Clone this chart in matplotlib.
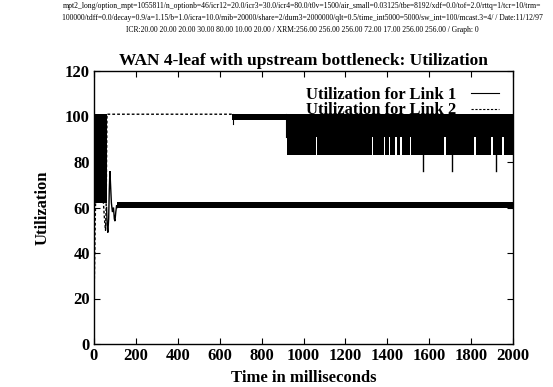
import numpy as np
import matplotlib
matplotlib.use("Agg")
import matplotlib.pyplot as plt

# ---------------- data ----------------
# Link 1 (solid): dense oscillation bands (t_start, t_end, low, high) and sparse trace
link1_bands = [(0, 60, 62, 101), (112, 2000, 59.8, 62.2)]
link1_t = [60, 63, 66, 70, 73, 76, 79, 83, 88, 93, 97, 100, 104, 108, 112]
link1_v = [60, 52, 49, 55, 68, 76, 70, 62, 58, 60, 55, 54, 58, 61, 60]

# Link 2 (dashed): sparse trace, dense bands, gaps and spikes in the last band
link2_t = [0, 3, 6, 9, 12, 15, 20, 25, 30, 35, 40, 45, 50, 55, 58, 62, 660]
link2_v = [20, 35, 55, 70, 82, 90, 85, 80, 88, 75, 70, 62, 55, 50, 60, 101, 101]
link2_bands = [(660, 918, 98.5, 101), (920, 2000, 83, 101)]
link2_blips_t = [665, 918]
link2_blips_v = [96.5, 91]
link2_gaps = [1062, 1329, 1386, 1410, 1443, 1467, 1510, 1676, 1819, 1900, 1952]
link2_gap_floor = 91
link2_spikes = [1571, 1710, 1919]
link2_spike_floor = 76

title = "WAN 4-leaf with upstream bottleneck: Utilization"
xlabel = "Time in milliseconds"
ylabel = "Utilization"
legend_labels = ["Utilization for Link 1", "Utilization for Link 2"]
header = [
    "mpt2_long/option_mpt=1055811/n_optionb=46/icr12=20.0/icr3=30.0/icr4=80.0/t0v=1500/air_small=0.03125/tbe=8192/xdf=0.0/tof=2.0/rttq=1/tcr=10/trm=",
    "100000/tdff=0.0/decay=0.9/a=1.15/b=1.0/icra=10.0/mib=20000/share=2/dum3=2000000/qlt=0.5/time_int5000=5000/sw_int=100/mcast.3=4/ / Date:11/12/97",
    "ICR:20.00 20.00 20.00 30.00 80.00 10.00 20.00 / XRM:256.00 256.00 256.00 72.00 17.00 256.00 256.00 / Graph: 0",
]
xticks = list(range(0, 2001, 200))
yticks = list(range(0, 121, 20))

# ---------------- plot ----------------
plt.rcParams['font.family'] = ['Liberation Serif', 'DejaVu Serif']
fig = plt.figure(figsize=(5.53, 3.87), dpi=100)
ax = fig.add_axes([94/553, 43/387, 419/553, 273/387])

def draw_band(t0, t1, lo, hi, gaps=(), gap_floor=None, notch=4):
    ts = [t0]
    low = [lo]
    for g in gaps:
        ts += [g - notch, g - notch, g + notch, g + notch]
        low += [lo, gap_floor, gap_floor, lo]
    ts.append(t1)
    low.append(lo)
    ax.fill_between(ts, low, [hi] * len(ts), color='black', linewidth=0)

for b in link1_bands:
    draw_band(*b)
ax.plot(link1_t, link1_v, color='black', lw=1.0, solid_joinstyle='miter')

ax.plot(link2_t, link2_v, color='black', lw=1.0, ls=(0, (2, 1.5)))
draw_band(*link2_bands[0])
draw_band(*link2_bands[1], gaps=link2_gaps, gap_floor=link2_gap_floor)
for bt, bv in zip(link2_blips_t, link2_blips_v):
    ax.plot([bt, bt], [bv, 101], color='black', lw=0.8)
for s in link2_spikes:
    ax.plot([s, s], [link2_spike_floor, link2_bands[1][2]], color='black', lw=1.0)

# legend handles
h1, = ax.plot([], [], color='black', lw=0.8)
h2, = ax.plot([], [], color='black', lw=0.8, ls=(0, (2, 1.5)))
leg = ax.legend([h1, h2], legend_labels, loc='upper right',
                bbox_to_anchor=(0.983, 0.965), frameon=False, markerfirst=False,
                prop={'weight': 'bold', 'size': 12}, handlelength=1.7,
                handletextpad=0.85, labelspacing=-0.05, borderaxespad=0.0)

ax.set_xlim(0, 2000)
ax.set_ylim(0, 120)
ax.set_xticks(xticks)
ax.set_yticks(yticks)
ax.tick_params(direction='in', top=True, right=True, length=4, width=0.8,
               labelsize=12, pad=3)
for lab in ax.get_xticklabels() + ax.get_yticklabels():
    lab.set_fontweight('bold')
for sp in ax.spines.values():
    sp.set_linewidth(1.0)

ax.set_title(title, fontsize=12.5, fontweight='bold', pad=4)
ax.set_xlabel(xlabel, fontsize=12, fontweight='bold', labelpad=4)
ax.set_ylabel(ylabel, fontsize=12, fontweight='bold', labelpad=10)

for i, line in enumerate(header):
    fig.text(302/553, 1 - (6 + 12 * i)/387, line, ha='center', va='center', fontsize=5.5)

fig.savefig("out.png", dpi=100)
